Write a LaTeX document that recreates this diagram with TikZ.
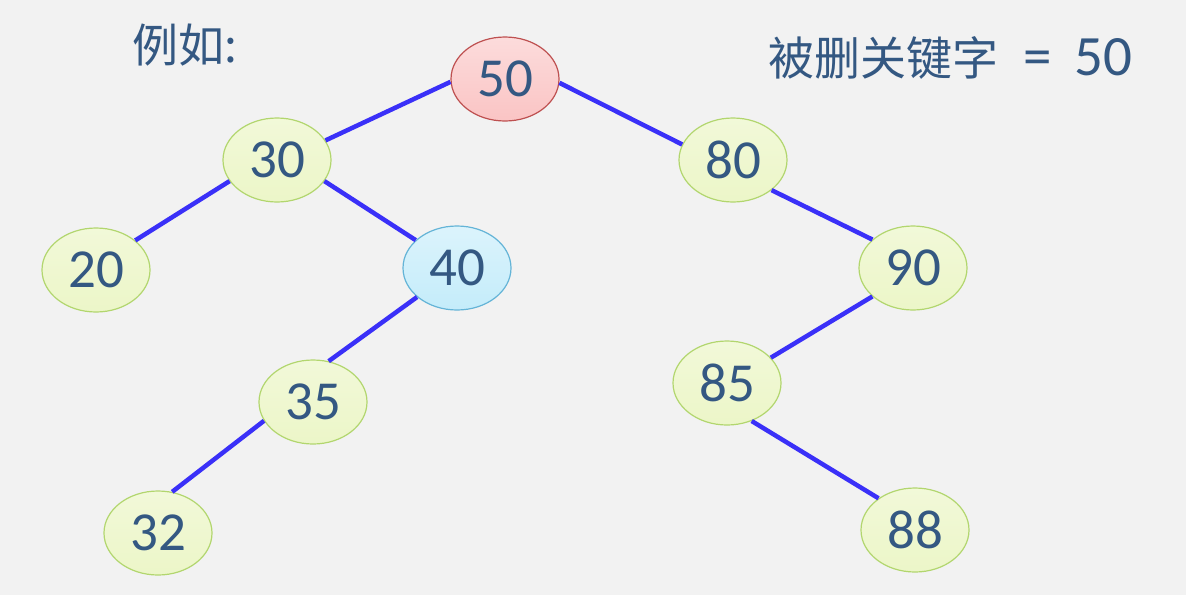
\documentclass[tikz,border=0pt]{standalone}
\usepackage{fontspec}
\setmainfont{Carlito}
\newfontfamily\cjk{Noto Sans CJK SC}
\usetikzlibrary{shapes.geometric}
\definecolor{bgcol}{RGB}{242,242,242}
\definecolor{txtcol}{RGB}{52,88,130}
\definecolor{edgecol}{RGB}{58,48,248}
\definecolor{greenfill}{RGB}{236,246,200}
\definecolor{greenline}{RGB}{178,214,110}
\definecolor{redfill}{RGB}{250,196,196}
\definecolor{redline}{RGB}{190,80,80}
\definecolor{bluefill}{RGB}{196,236,250}
\definecolor{blueline}{RGB}{100,180,215}

\begin{document}
\begin{tikzpicture}[x=1pt,y=-1pt,
  key/.style={ellipse,draw=greenline,top color=greenfill!70!white,bottom color=greenfill,
    line width=1.2pt,minimum width=108pt,minimum height=84pt,inner sep=0pt,
    text=txtcol,font=\fontsize{55}{55}\selectfont},
  delkey/.style={key,draw=redline,top color=redfill!60!white,bottom color=redfill},
  succkey/.style={key,draw=blueline,top color=bluefill!60!white,bottom color=bluefill},
  link/.style={draw=edgecol,line width=4.5pt}]
\fill[bgcol] (0,0) rectangle (1186,595);
\useasboundingbox (0,0) rectangle (1186,595);
% nodes
\node[delkey] (k50) at (505,79) {50};
\node[key] (k30) at (277,160) {30};
\node[key] (k80) at (733,160) {80};
\node[key] (k20) at (96,270) {20};
\node[succkey] (k40) at (457,268) {40};
\node[key] (k90) at (913,268) {90};
\node[key] (k35) at (313,402) {35};
\node[key] (k85) at (727,383) {85};
\node[key] (k32) at (158,533) {32};
\node[key] (k88) at (915,530) {88};
% links
\draw[link] (k50.183)--(k30.22);
\draw[link] (k50.356)--(k80.163);
\draw[link] (k30.204)--(k20.37);
\draw[link] (k30.336)--(k40.146);
\draw[link] (k80.322)--(k90.145);
\draw[link] (k40.216)--(k35.69);
\draw[link] (k35.201)--(k32.71);
\draw[link] (k90.215)--(k85.30);
\draw[link] (k85.303)--(k88.139);
% labels
\node[anchor=west,text=txtcol,inner sep=0pt] (ex) at (132,45)
  {\fontsize{46}{46}\selectfont\cjk 例如:};
\node[anchor=west,text=txtcol,inner sep=0pt] (del) at (768,58)
  {{\fontsize{46}{46}\selectfont\cjk 被删关键字}\fontsize{57}{57}\selectfont\hspace{25pt}=\hspace{23pt}50};
\end{tikzpicture}
\end{document}
